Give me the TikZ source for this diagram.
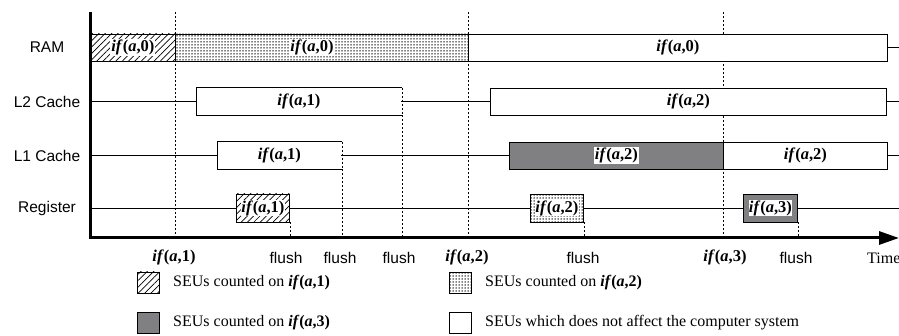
\documentclass[tikz,border=0pt]{standalone}
\usepackage{fontspec}
\setmainfont{Liberation Serif}
\setsansfont{Liberation Sans}
\usetikzlibrary{patterns.meta,arrows.meta}
\newcommand\IFA[1]{\textbf{\textit{if}(\textit{a},#1)}}
\definecolor{seugray}{RGB}{128,128,130}
\begin{document}
\begin{tikzpicture}[x=1pt,y=-1pt,
  every node/.style={font=\fontsize{16.5}{19}\selectfont},
  lbl/.style={font=\sffamily\fontsize{15.5}{18}\selectfont},
  vdash/.style={dash pattern=on 2pt off 2pt, line width=0.8pt},
  rowline/.style={line width=0.8pt},
  bar/.style={draw, line width=0.9pt, inner sep=0pt, minimum height=27pt, anchor=west},
  hatchfill/.style={preaction={fill=white},pattern={Lines[angle=45,distance=4.5pt,line width=0.7pt]}},
  dotfill/.style={preaction={fill=white},pattern={Dots[distance=3pt,radius=0.75pt]}},
  grayfill/.style={fill=seugray},
  whitefill/.style={fill=white},
  tag/.style={fill=white, inner sep=1pt},
  legbox/.style={draw, line width=0.9pt, minimum width=22pt, minimum height=21pt, inner sep=0pt},
  legtxt/.style={anchor=west, inner sep=0pt, font=\fontsize{16}{19}\selectfont},
]
\useasboundingbox (0,0) rectangle (899,336);
% axes coordinates
\coordinate (o) at (90,238);
\coordinate (ytop) at (90,12);
\coordinate (xend) at (899,238);
% long dashed time markers
\coordinate (d1t) at (175,12); \coordinate (d2t) at (468,12); \coordinate (d3t) at (723,12);
\draw[vdash] (d1t) -- (d1t |- o);
\draw[vdash] (d2t) -- (d2t |- o);
\draw[vdash] (d3t) -- (d3t |- o);
% row lines
\coordinate (l2s) at (90,101.5); \coordinate (l2e) at (899,101.5);
\coordinate (l1s) at (90,155.5); \coordinate (l1e) at (899,155.5);
\coordinate (rgs) at (90,208); \coordinate (rge) at (899,208);
\coordinate (rme) at (899,47.5);
\draw[rowline] (l2s) -- (l2e);
\draw[rowline] (l1s) -- (l1e);
\draw[rowline] (rgs) -- (rge);
% row labels
\node[lbl] (lram) at (47,47.5) {RAM};
\node[lbl] (ll2) at (47,101.5) {L2 Cache};
\node[lbl] (ll1) at (47,155.5) {L1 Cache};
\node[lbl] (lreg) at (47,208) {Register};
% RAM
\node[bar, hatchfill, minimum width=85pt] (ram1) at (90,47.5) {};
\node[bar, dotfill, minimum width=293pt] (ram2) at (175,47.5) {};
\node[bar, whitefill, minimum width=419pt] (ram3) at (468,47.5) {};
\draw[rowline] (ram3.east) -- (rme);
\draw[vdash] (ram1.north east) -- (ram1.south east);
% L2
\node[bar, whitefill, draw=none, minimum width=205pt] (l2a) at (196,101.5) {};
\draw[line width=0.9pt] (l2a.north east) -- (l2a.north west) -- (l2a.south west) -- (l2a.south east);
\draw[vdash] (l2a.north east) -- (l2a.south east);
\node[bar, whitefill, minimum width=396pt] (l2b) at (490,101.5) {};
% L1
\node[bar, whitefill, draw=none, minimum width=124pt] (l1a) at (217,155.5) {};
\draw[line width=0.9pt] (l1a.north east) -- (l1a.north west) -- (l1a.south west) -- (l1a.south east);
\draw[vdash] (l1a.north east) -- (l1a.south east);
\node[bar, grayfill, minimum width=214pt] (l1b) at (509,155.5) {};
\node[bar, whitefill, minimum width=164pt] (l1c) at (723,155.5) {};
% Register
\node[bar, hatchfill, minimum width=53pt, minimum height=28pt] (rg1) at (236,208) {};
\node[bar, dotfill, minimum width=53pt, minimum height=28pt] (rg2) at (530,208) {};
\node[bar, grayfill, minimum width=54pt, minimum height=28pt] (rg3) at (743,208) {};
% flush markers
\draw[vdash] (rg1.south east) -- (rg1.south east |- o);
\draw[vdash] (l1a.south east) -- (l1a.south east |- o);
\draw[vdash] (l2a.south east) -- (l2a.south east |- o);
\draw[vdash] (rg2.south east) -- (rg2.south east |- o);
\draw[vdash] (rg3.south east) -- (rg3.south east |- o);
% box texts
\node[tag] (tram1) at (ram1) {\IFA{0}};
\node[tag] (tram2) at (312,47.5) {\IFA{0}};
\node[tag] (tram3) at (ram3) {\IFA{0}};
\node[tag] (tl2a) at (l2a) {\IFA{1}};
\node[tag] (tl2b) at (l2b) {\IFA{2}};
\node[tag] (tl1a) at (l1a) {\IFA{1}};
\node[tag] (tl1b) at (l1b) {\IFA{2}};
\node[tag] (tl1c) at (l1c) {\IFA{2}};
\node[tag, inner sep=0.3pt] (trg1) at (rg1) {\IFA{1}};
\node[tag, inner sep=0.3pt] (trg2) at (rg2) {\IFA{2}};
\node[tag, inner sep=0.3pt] (trg3) at (rg3) {\IFA{3}};
% axes
\draw[line width=3pt, line join=miter, -{Triangle[length=20pt,width=13pt]}] (ytop) -- (o) -- (xend);
% time labels
\node (a1) at (174,257) {\IFA{1}};
\node[lbl] (f1) at (286,258) {flush};
\node[lbl] (f2) at (340,258) {flush};
\node[lbl] (f3) at (399,258) {flush};
\node (a2) at (467,257) {\IFA{2}};
\node[lbl] (f4) at (583,258) {flush};
\node (a3) at (725,257) {\IFA{3}};
\node[lbl] (f5) at (796,258) {flush};
\node[anchor=west, inner sep=0pt, font=\fontsize{16}{19}\selectfont] (time) at (867,258) {Time};
% legend
\node[legbox, hatchfill] (k1) at (148,282.5) {};
\node[legtxt] (k1t) at (173,282.5) {SEUs counted on \IFA{1}};
\node[legbox, grayfill] (k2) at (148,322.5) {};
\node[legtxt] (k2t) at (173,322.5) {SEUs counted on \IFA{3}};
\node[legbox, dotfill] (k3) at (460,282.5) {};
\node[legtxt] (k3t) at (485,282.5) {SEUs counted on \IFA{2}};
\node[legbox, whitefill] (k4) at (460,322.5) {};
\node[legtxt] (k4t) at (485,322.5) {SEUs which does not affect the computer system};
\end{tikzpicture}
\end{document}
